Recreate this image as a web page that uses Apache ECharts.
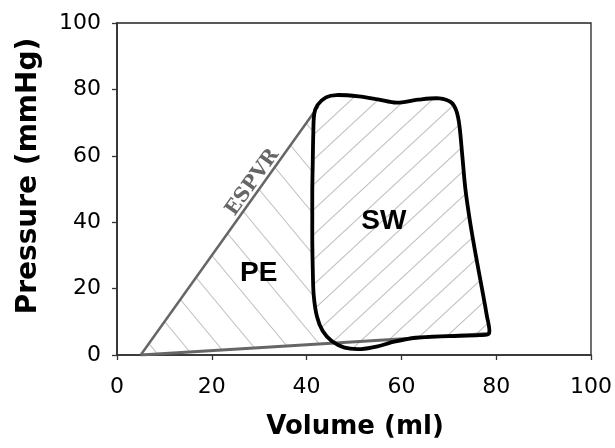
<!DOCTYPE html>
<html>
<head>
<meta charset="utf-8">
<script src="https://cdn.jsdelivr.net/npm/echarts@6/dist/echarts.min.js"></script>
<style>
html,body{margin:0;padding:0;background:#fff;}
#chart{width:615px;height:448px;}
</style>
</head>
<body>
<div id="chart"></div>
<script>
// ---- data ----
var xTicks = [0, 20, 40, 60, 80, 100];
var yTicks = [0, 20, 40, 60, 80, 100];
// End-systolic pressure-volume relation (volume ml, pressure mmHg)
var espvr = [[5, 0], [42.5, 75]];
// End-diastolic pressure-volume relation
var edpvr = [[5, 0], [78.5, 6.5]];
// Pressure-volume loop, starting at the top-left corner, going down the left edge
var loop = [
  [42.3, 75.3], [41.6, 72.5], [41.4, 66], [41.3, 58], [41.2, 50], [41.2, 42],
  [41.2, 34], [41.3, 26], [41.5, 18], [42.2, 11.5], [43.4, 7.2], [45.3, 4.2],
  [48.0, 2.2], [51.5, 1.8], [55.0, 2.6], [58.5, 4.0], [63.0, 5.2],
  [70.0, 5.7], [76.5, 6.0], [78.5, 6.5],
  [78.0, 12], [77.0, 20], [75.7, 30], [74.5, 40], [73.5, 50],
  [72.85, 60], [72.25, 69], [71.6, 73.5], [70.5, 76.1],
  [68.0, 77.3], [63.5, 76.9], [59.0, 76.0], [55.0, 77.0], [51.0, 77.9], [46.3, 78.3], [44.1, 77.6]
];
var leftEdgeCount = 11; // loop points forming the left (ejection) edge
var labels = [
  {text: 'SW', at: [56.3, 40.4]},
  {text: 'PE', at: [29.9, 24.5]}
];
var espvrLabel = {text: 'ESPVR', at: [28.6, 52.0]};
var xName = 'Volume (ml)';
var yName = 'Pressure (mmHg)';

// ---- helpers ----
function edpvrAt(v) {
  var a = edpvr[0], b = edpvr[1];
  return a[1] + (b[1] - a[1]) * (v - a[0]) / (b[0] - a[0]);
}
var peRegion = [espvr[0], espvr[1]].concat(loop.slice(1, leftEdgeCount));
var lastLeft = loop[leftEdgeCount - 1];
peRegion.push([lastLeft[0] + 0.8, edpvrAt(lastLeft[0] + 0.8)]);

function hatch(w, h, back) {
  var c = document.createElement('canvas');
  c.width = w; c.height = h;
  var g = c.getContext('2d');
  g.strokeStyle = '#c2c2c2';
  g.lineWidth = 1.1;
  for (var k = -1; k <= 1; k++) {
    g.beginPath();
    if (back) { g.moveTo(k * w - w, -h); g.lineTo(k * w + 2 * w, 2 * h); }
    else { g.moveTo(k * w - w, 2 * h); g.lineTo(k * w + 2 * w, -h); }
    g.stroke();
  }
  return {image: c, repeat: 'repeat'};
}
var pePattern = hatch(34, 41, true);
var swPattern = hatch(27, 25, false);

var chart = echarts.init(document.getElementById('chart'), null, {renderer: 'canvas'});

function polySeries(points, fill, stroke, lw, smooth, z) {
  return {
    type: 'custom',
    data: [0],
    z: z,
    silent: true,
    clip: false,
    renderItem: function (params, api) {
      var pts = points.map(function (p) { return api.coord(p); });
      return {
        type: 'polygon',
        shape: {points: pts, smooth: smooth},
        style: {fill: fill, stroke: stroke, lineWidth: lw, lineJoin: 'round'}
      };
    }
  };
}

var tickFont = {fontFamily: 'DejaVu Sans', fontSize: 22, color: '#000'};

chart.setOption({
  animation: false,
  grid: {left: 117, top: 23, right: 24, bottom: 93, show: true, borderColor: '#222', borderWidth: 1.3, backgroundColor: 'transparent'},
  xAxis: {
    type: 'value', min: xTicks[0], max: xTicks[xTicks.length - 1], interval: xTicks[1] - xTicks[0],
    axisLine: {show: true, onZero: false, lineStyle: {color: '#333', width: 1.5}},
    axisTick: {show: true, inside: false, length: 5, lineStyle: {color: '#333', width: 1.3}},
    axisLabel: Object.assign({margin: 21}, tickFont),
    splitLine: {show: false}
  },
  yAxis: {
    type: 'value', min: yTicks[0], max: yTicks[yTicks.length - 1], interval: yTicks[1] - yTicks[0],
    axisLine: {show: true, onZero: false, lineStyle: {color: '#333', width: 1.8}},
    axisTick: {show: true, inside: false, length: 5, lineStyle: {color: '#333', width: 1.3}},
    axisLabel: Object.assign({margin: 16}, tickFont),
    splitLine: {show: false}
  },
  series: [
    polySeries(peRegion, pePattern, null, 0, 0, 1),
    polySeries(loop, swPattern, null, 0, 0.3, 2),
    {type: 'line', data: espvr, showSymbol: false, z: 3, lineStyle: {color: '#666', width: 2.5}, silent: true},
    {type: 'line', data: edpvr, showSymbol: false, z: 3, lineStyle: {color: '#666', width: 3}, silent: true},
    polySeries(loop, 'transparent', '#000', 3.8, 0.3, 4)
  ]
});

function px(p) { return chart.convertToPixel({gridIndex: 0}, p); }
var graphics = [];
labels.forEach(function (l) {
  var q = px(l.at);
  graphics.push({type: 'text', x: q[0], y: q[1], z: 10, style: {text: l.text, fontFamily: 'Liberation Sans', fontWeight: 'bold', fontSize: 28, fill: '#000', align: 'center', verticalAlign: 'middle'}});
});
var a = px(espvr[0]), b = px(espvr[1]);
var ang = Math.atan2(a[1] - b[1], b[0] - a[0]);
var e = px(espvrLabel.at);
graphics.push({type: 'text', x: e[0], y: e[1], rotation: ang, z: 10, style: {text: espvrLabel.text, fontFamily: 'DejaVu Serif', fontWeight: 'bold', fontSize: 20, fill: '#666', align: 'center', verticalAlign: 'middle'}});
graphics.push({type: 'text', x: 355, y: 427, z: 10, style: {text: xName, fontFamily: 'DejaVu Sans', fontWeight: 'bold', fontSize: 26, fill: '#000', align: 'center', verticalAlign: 'middle'}});
graphics.push({type: 'text', x: 29, y: 176, rotation: Math.PI / 2, z: 10, style: {text: yName, fontFamily: 'DejaVu Sans', fontWeight: 'bold', fontSize: 28, fill: '#000', align: 'center', verticalAlign: 'middle'}});
chart.setOption({graphic: graphics});
</script>
</body>
</html>
